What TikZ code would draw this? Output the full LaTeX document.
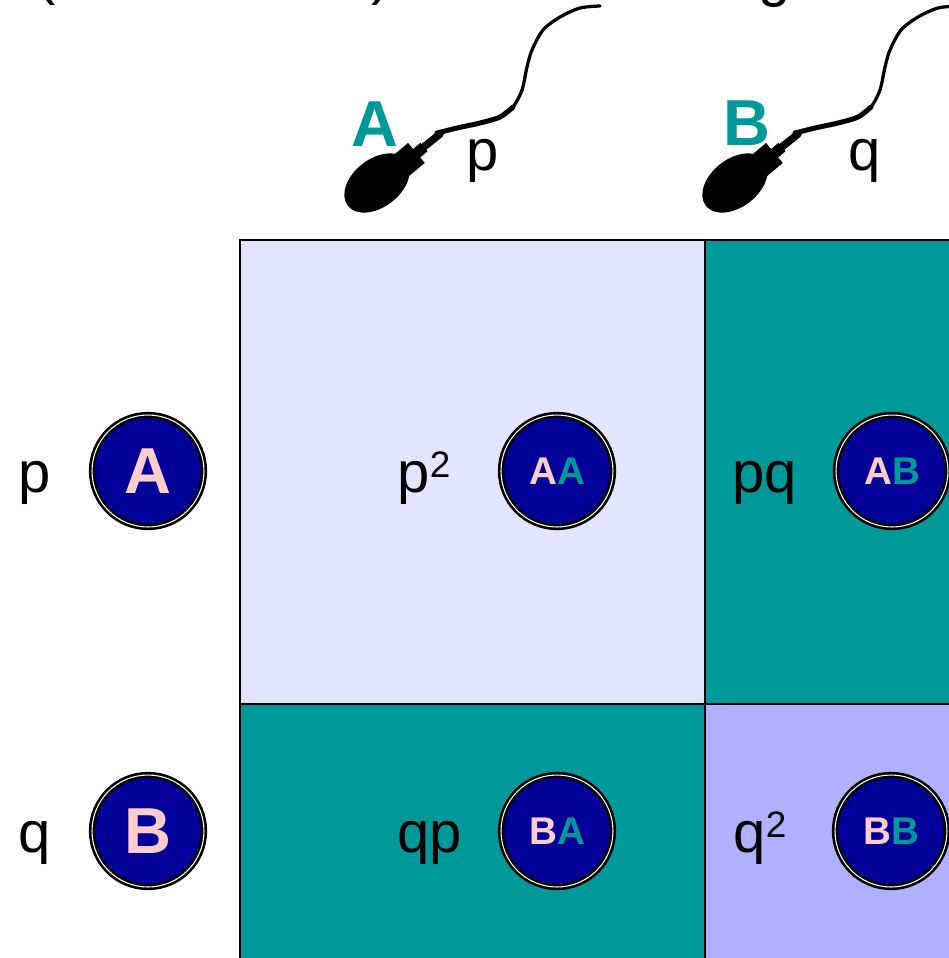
\documentclass[tikz,border=0pt]{standalone}
\usepackage{fontspec}
\setmainfont{Liberation Sans}
\usetikzlibrary{positioning}

\definecolor{seagreen}{HTML}{009999}
\definecolor{navy}{HTML}{000099}
\definecolor{rose}{HTML}{FFCCCC}
\definecolor{lilac}{HTML}{E4E4FF}
\definecolor{periwinkle}{HTML}{B0B0FF}

\newcommand{\powtwo}{\raisebox{8pt}{\fontsize{21}{21}\selectfont 2}}
\newcommand{\pair}[2]{{\color{rose}#1}{\color{seagreen}#2}}

\begin{document}
\begin{tikzpicture}[x=0.02cm, y=-0.02cm,
        cell/.style={rectangle, draw=black, line width=1pt, minimum width=9.3cm, minimum height=9.28cm, inner sep=0pt, outer sep=0pt},
        gamete/.style={circle, draw=black, double=white, double distance=0.6pt, line width=1.5pt, fill=navy, minimum size=2.24cm, inner sep=0pt, text=rose, font=\fontsize{37}{37}\selectfont\bfseries},
        zygote/.style={gamete, font=\fontsize{22}{22}\selectfont\bfseries},
        freq/.style={anchor=base, font=\fontsize{33}{33}\selectfont},
        allele/.style={text=seagreen, font=\fontsize{37}{37}\selectfont\bfseries},
        sperm/.pic={
            \fill[rotate around={38:(377,183)}] (377,183) ellipse [x radius=37, y radius=24];
            \fill[rotate around={40:(408,160)}] (397,147) rectangle (419,173);
            \draw[line width=0.22cm] (404,164) -- (424,147);
            \draw[line width=0.15cm, line cap=round] (420,150) -- (440,134);
            \draw[line width=0.1cm, line cap=round] plot[smooth] coordinates {(437,133) (457,128) (480,123) (500,117) (513,107)};
            \draw[line width=0.065cm, line cap=round] plot[smooth] coordinates {(437,133) (457,128) (480,123) (500,117) (513,107) (522,90) (527,67) (532,50) (543,30) (560,17) (580,8) (600,6)};
        },
    ]
    \useasboundingbox (0,0) rectangle (949,958);
    \clip (0,0) rectangle (949,958);
    \fill[white] (0,0) rectangle (949,958);

    \node[freq] (capopen) at (46,-7) {(};
    \node[freq] (capclose) at (381,-7) {)};
    \node[freq] (capg) at (775,-5) {g};

    \pic (spermA) at (0,0) {sperm};
    \pic (spermB) at (358,0) {sperm};
    \node[allele] (alleleA) at (375,124) {A};
    \node[allele] (alleleB) at (747,123) {B};
    \node[freq] (fp) at (483,170) {p};
    \node[freq] (fq) at (865,170) {q};

    \node[cell, fill=lilac, anchor=north west] (cellAA) at (240,240) {};
    \node[cell, fill=seagreen] (cellAB) [right=0cm of cellAA] {};
    \node[cell, fill=seagreen] (cellBA) [below=0cm of cellAA] {};
    \node[cell, fill=periwinkle] (cellBB) [right=0cm of cellBA] {};

    \node[gamete] (eggA) at (148,471) {A};
    \node[gamete] (eggB) at (148,831) {B};
    \node[freq] (ep) at (35,492) {p};
    \node[freq] (eq) at (35,852) {q};

    \node[zygote] (AA) at (557,471) {\pair{A}{A}};
    \node[zygote] (AB) at (892,471) {\pair{A}{B}};
    \node[zygote] (BA) at (557,831) {\pair{B}{A}};
    \node[zygote] (BB) at (891,831) {\pair{B}{B}};

    \node[freq] (pp) at (424,492) {p\powtwo};
    \node[freq] (pq) at (765,492) {pq};
    \node[freq] (qp) at (430,852) {qp};
    \node[freq] (qq) at (760,852) {q\powtwo};
\end{tikzpicture}
\end{document}
